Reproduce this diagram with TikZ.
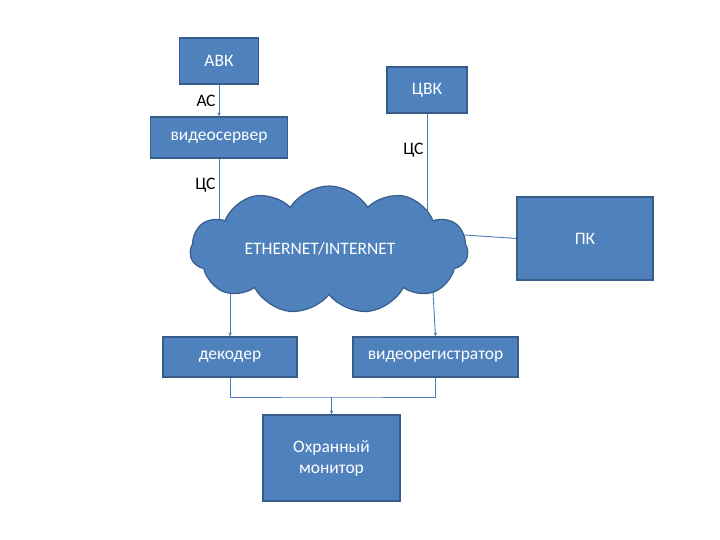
\documentclass[tikz,border=0pt]{standalone}
\usepackage{fontspec}
\setmainfont{Carlito}
\usetikzlibrary{arrows.meta,shapes.symbols}
\definecolor{cbox}{RGB}{79,129,189}
\definecolor{cedge}{RGB}{56,93,138}
\definecolor{cline}{RGB}{74,126,187}
\pgfdeclarelayer{bg}
\pgfsetlayers{bg,main}

\begin{document}
\begin{tikzpicture}[x=1pt, y=-1pt,
  blk/.style={draw=cedge, line width=1.2pt, fill=cbox, text=white,
    inner sep=0pt, align=center, font=\fontsize{17.5}{21}\selectfont},
  lbl/.style={text=black, font=\fontsize{17.5}{21}\selectfont, inner sep=3pt},
  link/.style={cline, line width=0.9pt},
  tip/.style={-{Stealth[length=4pt, width=3.5pt]}}]
\useasboundingbox (0,0) rectangle (720,540);
\node[blk, minimum width=79pt, minimum height=46pt] (avk) at (219,61) {АВК};
\node[blk, minimum width=80pt, minimum height=46pt] (cvk) at (427,90) {ЦВК};
\node[blk, minimum width=137pt, minimum height=41pt] (vs) at (219,137.5)
  {видеосервер};
\node[blk, cloud, cloud puffs=11, cloud puff arc=115, cloud ignores aspect,
  minimum width=278pt, minimum height=128pt] (net) at (329,250)
  {\raisebox{4pt}{ETHERNET/INTERNET}\hspace*{18pt}};
\node[blk, minimum width=136pt, minimum height=83pt] (pk) at (585,238.5) {ПК};
\node[blk, minimum width=134pt, minimum height=40pt] (dec) at (230,357)
  {декодер};
\node[blk, minimum width=165pt, minimum height=40pt] (vr) at (435.5,357)
  {видеорегистратор};
\node[blk, minimum width=137pt, minimum height=86pt] (mon) at (331.5,458)
  {Охранный\\монитор};
\coordinate (netpk) at (450,234);
\coordinate (vrin) at (432,275);
\coordinate (j) at (mon.north |- 0,397);
\begin{pgfonlayer}{bg}
\draw[link, tip] (avk.south) -- node[lbl, left] {АС} (vs.north);
\draw[link] (vs.south) -- node[lbl, left, pos=0.29] {ЦС}
  (vs.south |- net.center);
\draw[link] (cvk.south) -- node[lbl, left, pos=0.27] {ЦС}
  (cvk.south |- net.center);
\draw[link] (netpk) -- (pk.west);
\draw[link, tip] (dec.north |- net.center) -- (dec.north);
\draw[link, tip] (vrin) -- (vr.north);
\draw[link] (dec.south) |- (j) -| (vr.south);
\draw[link, tip] (j) -- (mon.north);
\end{pgfonlayer}
\end{tikzpicture}
\end{document}
